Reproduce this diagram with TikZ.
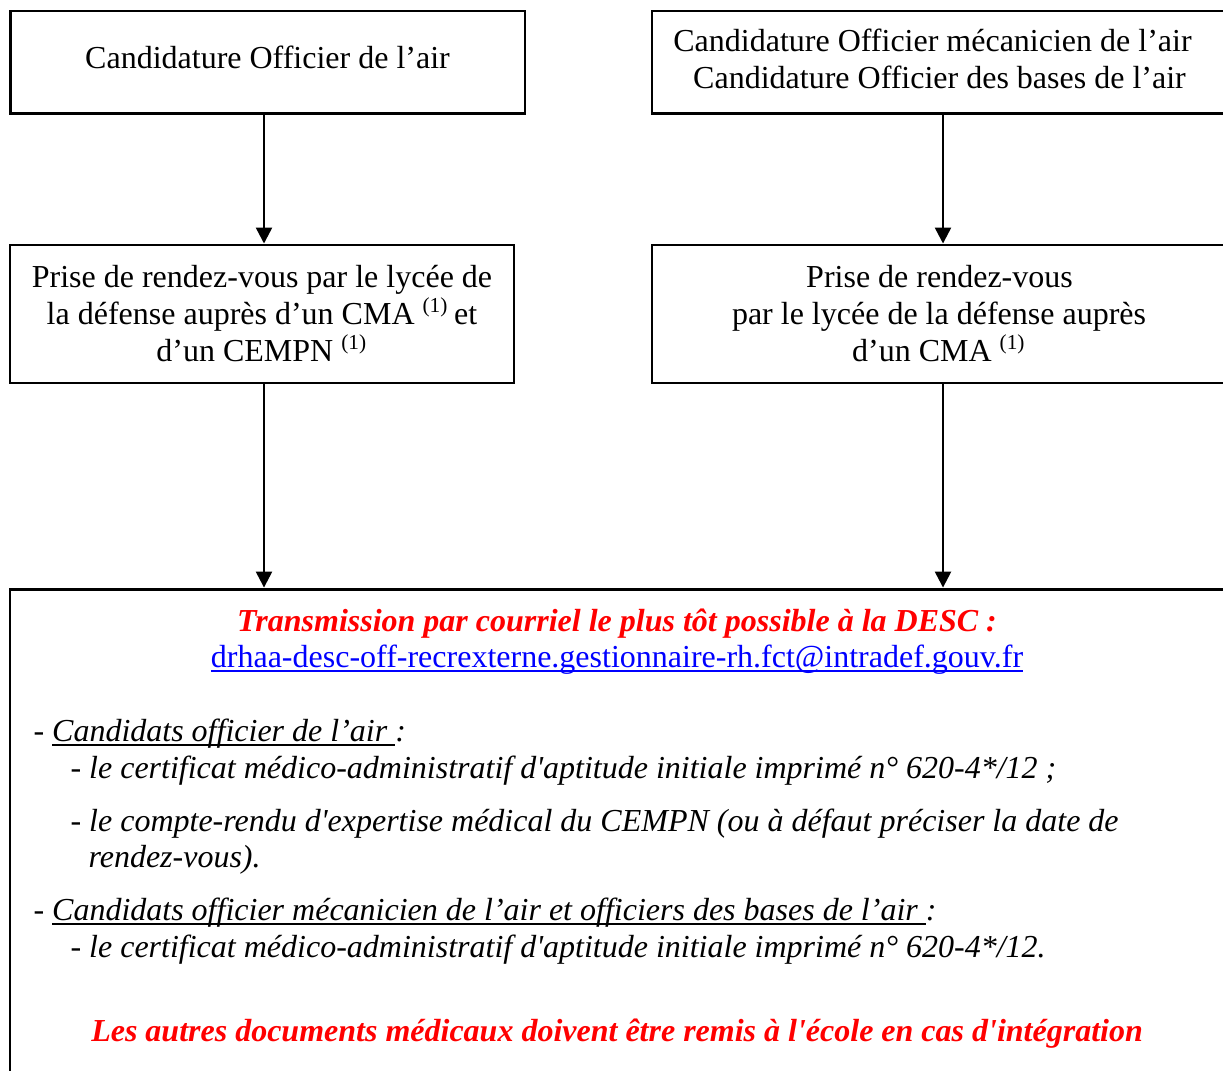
\documentclass[tikz,border=0pt]{standalone}
\usepackage{fontspec}
\setmainfont{Liberation Serif}
\usetikzlibrary{arrows.meta}
\definecolor{rouge}{RGB}{255,0,0}
\definecolor{bleu}{RGB}{0,0,255}
\newsavebox{\boitesoul}
\newcommand{\souligne}[1]{\sbox{\boitesoul}{#1}\rlap{\rule[-1.9pt]{\wd\boitesoul}{0.6pt}}\usebox{\boitesoul}}
\tikzstyle{boite} = [rectangle, draw, line width=1.1pt, inner sep=0pt]
\tikzstyle{ligne} = [anchor=base, inner sep=0pt, font=\fontsize{12}{13.8}\selectfont]
\tikzstyle{corps} = [anchor=base west, inner sep=0pt, font=\fontsize{12}{13.8}\selectfont\itshape]
\tikzstyle{titre} = [anchor=base, inner sep=0pt, text=rouge, font=\fontsize{12}{13.8}\selectfont\bfseries\itshape]
\tikzstyle{fleche} = [draw, line width=0.9pt, -{Triangle[length=6pt, width=6pt]}]

\begin{document}
\begin{tikzpicture}[x=0.375pt, y=-0.375pt]
    \useasboundingbox (0,0) rectangle (1223,1070);
    \clip (0,0) rectangle (1223,1070);

    % cadres
    \node[boite, minimum width=193.1pt, minimum height=38.6pt] (b1) at (267.5,62.5) {};
    \node[boite, minimum width=216pt, minimum height=38.6pt] (b2) at (940,62.5) {};
    \node[boite, minimum width=189pt, minimum height=51.75pt] (b3) at (262,314) {};
    \node[boite, minimum width=215.25pt, minimum height=51.75pt] (b4) at (939,314) {};
    \node[boite, minimum width=461.25pt, minimum height=191.6pt] (b5) at (625,844.5) {};

    \node[ligne] (t1) at (267.5,69) {Candidature Officier de l’air};
    \node[ligne] (t2a) at (932.5,52) {Candidature Officier mécanicien de l’air};
    \node[ligne] (t2b) at (939.5,89) {Candidature Officier des bases de l’air};
    \node[ligne] (t3a) at (262,287) {Prise de rendez-vous par le lycée de};
    \node[ligne] (t3b) at (262,324) {la défense auprès d’un CMA \textsuperscript{(1)}\,et};
    \node[ligne] (t3c) at (262,361) {d’un CEMPN \textsuperscript{(1)}};
    \node[ligne] (t4a) at (939.5,287) {Prise de rendez-vous};
    \node[ligne] (t4b) at (939,324) {par le lycée de la défense auprès};
    \node[ligne] (t4c) at (939,361) {d’un CMA \textsuperscript{(1)}};

    % envoi a la DESC
    \node[titre] (envoi) at (617,631) {Transmission par courriel le plus tôt possible à la DESC :};
    \node[ligne, text=bleu] (mail) at (617,667) {\souligne{drhaa-desc-off-recrexterne.gestionnaire-rh.fct@intradef.gouv.fr}};
    \node[corps] (c1) at (33,741) {- \souligne{Candidats officier de l’air }:};
    \node[corps] (c2) at (70,778) {- le certificat médico-administratif d\textquotesingle aptitude initiale imprimé n° 620-4*/12 ;};
    \node[corps] (c3) at (70,831) {- le compte-rendu d\textquotesingle expertise médical du CEMPN (ou à défaut préciser la date de};
    \node[corps] (c4) at (88,867) {rendez-vous).};
    \node[corps] (c5) at (33,920) {- \souligne{Candidats officier mécanicien de l’air et officiers des bases de l’air }:};
    \node[corps] (c6) at (70,957) {- le certificat médico-administratif d\textquotesingle aptitude initiale imprimé n° 620-4*/12.};
    \node[titre] (fin) at (617,1041) {Les autres documents médicaux doivent être remis à l\textquotesingle école en cas d\textquotesingle intégration};

    % fleches
    \coordinate (x1) at (264,0);
    \coordinate (x2) at (943,0);
    \path[fleche] (b1.south -| x1) -- (b3.north -| x1);
    \path[fleche] (b3.south -| x1) -- (b5.north -| x1);
    \path[fleche] (b2.south -| x2) -- (b4.north -| x2);
    \path[fleche] (b4.south -| x2) -- (b5.north -| x2);
\end{tikzpicture}
\end{document}
